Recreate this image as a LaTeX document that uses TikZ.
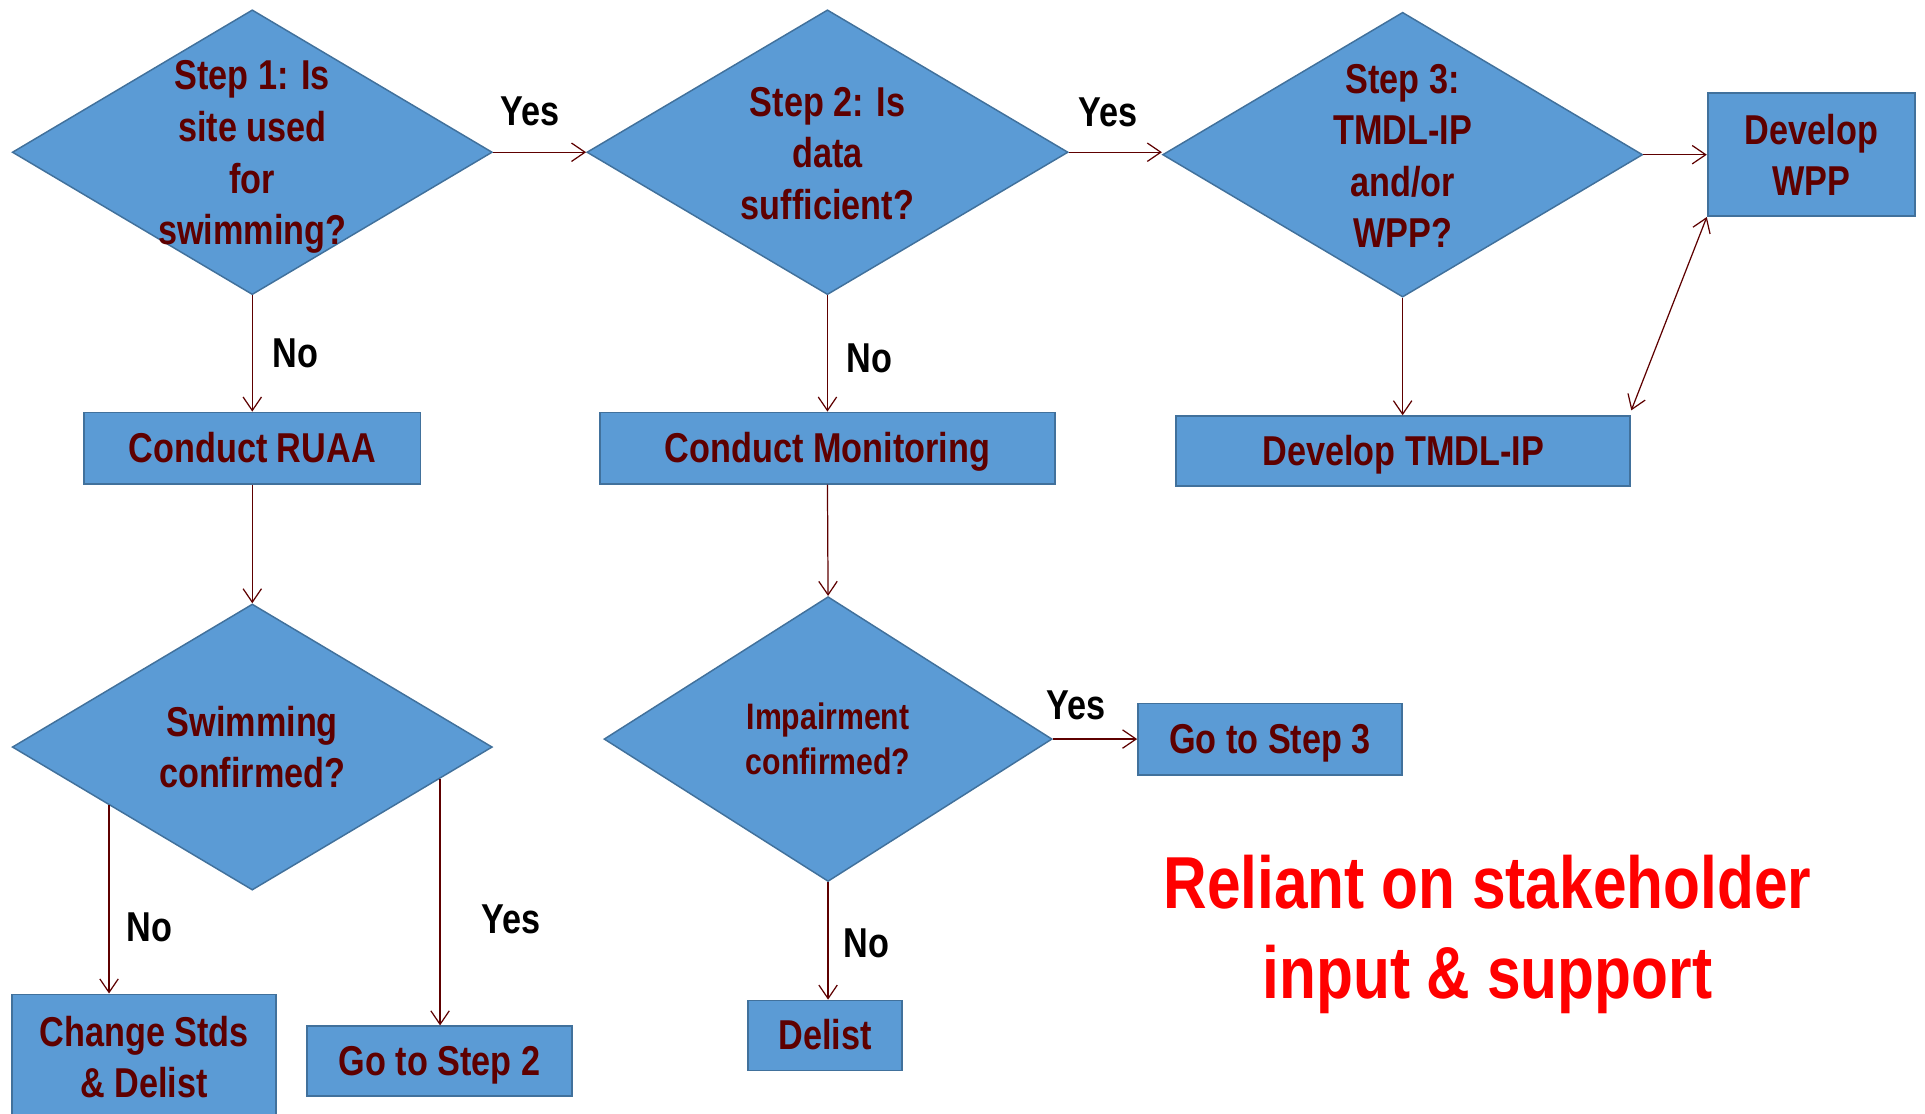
\documentclass[tikz,border=0pt]{standalone}
\usepackage{fontspec}
\setmainfont{Liberation Sans}[FakeStretch=0.82]
\usepackage{xcolor}
\usetikzlibrary{shapes.geometric,arrows.meta,positioning,calc}
\definecolor{boxblue}{HTML}{5B9BD5}
\definecolor{boxline}{HTML}{41719C}
\definecolor{textred}{HTML}{5E0000}

\begin{document}
\begin{tikzpicture}[
  x=1pt, y=-1pt,
  block/.style={rectangle, draw=boxline, line width=1.5pt, fill=boxblue,
    inner sep=0pt, text=textred, align=center,
    font=\fontsize{34}{42}\selectfont\bfseries},
  oneline/.style={text height=30pt, text depth=7pt},
  decision/.style={diamond, draw=boxline, line width=1.2pt, fill=boxblue,
    inner sep=0pt},
  qtext/.style={text=textred, align=center, inner sep=0pt,
    font=\fontsize{34}{42}\selectfont\bfseries},
  lab/.style={inner sep=0pt, font=\fontsize{34}{42}\selectfont\bfseries},
  arrow/.style={draw=textred, line width=1pt,
    -{Straight Barb[length=11pt,width=15pt]}},
]
  \useasboundingbox (0,0) rectangle (1568,907);

  % top row
  \node[decision, minimum width=391pt, minimum height=232pt] (d1) at (205.5,124) {};
  \node[qtext] (d1t) at ([yshift=-4pt]d1.center) {Step 1: Is\\site used\\for\\swimming?};
  \node[decision, minimum width=392pt, minimum height=232pt] (d2) at (674,124) {};
  \node[qtext] (d2t) at ([yshift=-1pt]d2.center) {Step 2: Is\\data\\sufficient?};
  \node[decision, minimum width=391pt, minimum height=232pt] (d3) at (1142.5,126) {};
  \node[qtext] (d3t) at ([yshift=-1pt]d3.center) {Step 3:\\TMDL-IP\\and/or\\WPP?};
  \node[block, minimum width=169pt, minimum height=100pt] (wpp) at (1475.5,126) {Develop\\WPP};

  % second row
  \node[block, oneline, minimum width=274pt, minimum height=58pt] (ruaa) at (205.5,365) {Conduct RUAA};
  \node[block, oneline, minimum width=370pt, minimum height=58pt] (mon) at (674,365) {Conduct Monitoring};
  \node[block, oneline, minimum width=370pt, minimum height=57pt] (tmdl) at (1143,367.5) {Develop TMDL-IP};

  % confirmation
  \node[decision, minimum width=391pt, minimum height=233pt] (d4) at (205.5,608.5) {};
  \node[qtext] (d4t) at (d4) {Swimming\\confirmed?};
  \node[decision, minimum width=365pt, minimum height=232pt] (d5) at (674.5,602) {};
  \node[qtext, font=\fontsize{30}{37}\selectfont\bfseries] (d5t) at (d5) {Impairment\\confirmed?};
  \node[block, oneline, minimum width=215pt, minimum height=58pt] (go3) at (1034.5,602) {Go to Step 3};

  % bottom row
  \node[block, minimum width=215pt, minimum height=102pt] (chg) at (117.5,861) {Change Stds\\\& Delist};
  \node[block, oneline, minimum width=216pt, minimum height=57pt] (go2) at (358,864.5) {Go to Step 2};
  \node[block, oneline, minimum width=126pt, minimum height=57pt] (delist) at (672,843.5) {Delist};

  \node[text=red, align=center, inner sep=0pt,
    font=\fontsize{60}{73}\selectfont\bfseries] (note) at (1211.5,761) {Reliant on stakeholder\\input \& support};

  \coordinate (d4no) at ($(d4.west)!0.405!(d4.south)$);
  \coordinate (d4yes) at ($(d4.east)!0.22!(d4.south)$);

  \draw[arrow] (d1.east) -- node[lab, pos=0.4, above=21pt] {Yes} (d1.east -| d2.west);
  \draw[arrow] (d2.east) -- node[lab, pos=0.42, above=20pt] {Yes} (d2.east -| d3.west);
  \draw[arrow] (d3.east) -- (d3.east -| wpp.west);
  \draw[arrow] (d3.south) -- (d3.south |- tmdl.north);
  \draw[arrow, {Straight Barb[length=11pt,width=15pt]}-{Straight Barb[length=11pt,width=15pt]}]
    ([yshift=4pt]tmdl.north east) -- (wpp.south west);
  \draw[arrow] (d1.south) -- node[lab, right=16pt] {No} (d1.south |- ruaa.north);
  \draw[arrow] (d2.south) -- node[lab, pos=0.54, right=15pt] {No} (d2.south |- mon.north);
  \draw[arrow] (ruaa.south) -- (d4.north);
  \draw[arrow] (mon.south) -- (d5.north);
  \draw[arrow] (d4no) -- node[lab, pos=0.65, right=14pt] {No} (d4no |- chg.north);
  \draw[arrow] (d4yes) -- node[lab, pos=0.57, right=33pt] {Yes} (d4yes |- go2.north);
  \draw[arrow] (d5.east) -- node[lab, pos=0.27, above=15pt] {Yes} (d5.east -| go3.west);
  \draw[arrow] (d5.south) -- node[lab, pos=0.52, right=12pt] {No} (d5.south |- delist.north);
\end{tikzpicture}
\end{document}
